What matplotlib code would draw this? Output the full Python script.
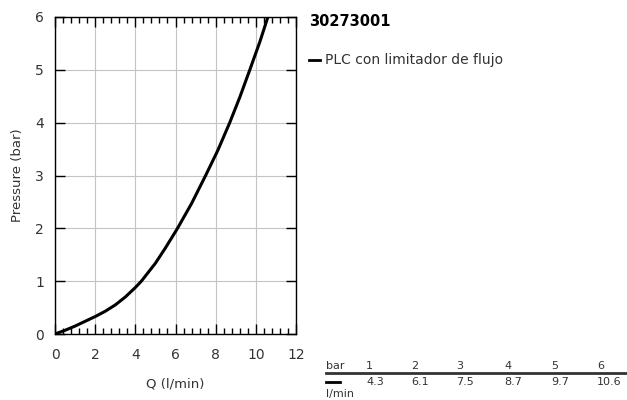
import matplotlib.pyplot as plt
from matplotlib.ticker import MultipleLocator

# Curve (Q in l/min, pressure in bar)
flow = [0, 0.5, 1, 1.5, 2, 2.5, 3, 3.5, 4, 4.3, 5, 5.5, 6.1, 6.8, 7.5,
        8.1, 8.7, 9.2, 9.7, 10.2, 10.6]
pressure = [0, 0.07, 0.15, 0.24, 0.33, 0.43, 0.55, 0.7, 0.88, 1.0, 1.34, 1.63,
            2.0, 2.47, 3.0, 3.47, 4.0, 4.48, 5.0, 5.53, 6.0]

# Table under the legend
table_bar = ['1', '2', '3', '4', '5', '6']
table_lmin = ['4.3', '6.1', '7.5', '8.7', '9.7', '10.6']

title = '30273001'
series_label = 'PLC con limitador de flujo'

txt = '#333333'

fig = plt.figure(figsize=(6.27, 4.0), dpi=100)
ax = fig.add_axes([55 / 627, 1 - 334 / 400, 241 / 627, 317 / 400])

ax.plot(flow, pressure, color='black', linewidth=2.2,
        solid_capstyle='round', solid_joinstyle='round')

ax.set_xlim(0, 12)
ax.set_ylim(0, 6)
ax.xaxis.set_major_locator(MultipleLocator(2))
ax.xaxis.set_minor_locator(MultipleLocator(0.4))
ax.yaxis.set_major_locator(MultipleLocator(1))

ax.tick_params(axis='both', which='major', direction='in', length=7, width=1,
               top=True, right=True, labelsize=10, labelcolor=txt)
ax.tick_params(axis='x', which='major', pad=10)
ax.tick_params(axis='y', which='major', pad=8)
ax.tick_params(axis='x', which='minor', direction='in', length=4, width=1,
               top=True, bottom=True)
ax.grid(True, which='major', color='#c4c4c4', linewidth=0.8)
ax.set_axisbelow(True)
for s in ax.spines.values():
    s.set_linewidth(1)

ax.set_xlabel('Q (l/min)', fontsize=9.5, color=txt, labelpad=11)
ax.set_ylabel('Pressure (bar)', fontsize=9.5, color=txt, labelpad=8)

# Title and legend on the right
fig.text(309 / 627, 1 - 22 / 400, title, fontsize=10.5, fontweight='bold',
         color='black', va='center', ha='left')
fig.add_artist(plt.Line2D([309 / 627, 320 / 627], [1 - 60 / 400, 1 - 60 / 400],
                          color='black', linewidth=2))
fig.text(325 / 627, 1 - 60 / 400, series_label, fontsize=10, color=txt,
         va='center', ha='left')

# Table
col_x = [366, 411, 456, 504, 551, 597]
row1_y = 1 - 366 / 400
row2_y = 1 - 382 / 400
fig.text(326 / 627, row1_y, 'bar', fontsize=8, color=txt, va='center', ha='left')
for x, b, q in zip(col_x, table_bar, table_lmin):
    fig.text(x / 627, row1_y, b, fontsize=8, color=txt, va='center', ha='left')
    fig.text(x / 627, row2_y, q, fontsize=8, color=txt, va='center', ha='left')
fig.add_artist(plt.Line2D([326 / 627, 1.0], [1 - 373 / 400, 1 - 373 / 400],
                          color='#333333', linewidth=2))
fig.add_artist(plt.Line2D([326 / 627, 340 / 627], [1 - 382 / 400, 1 - 382 / 400],
                          color='black', linewidth=2))
fig.text(326 / 627, 1 - 394 / 400, 'l/min', fontsize=8, color=txt,
         va='center', ha='left')

fig.savefig('out.png', dpi=100)
